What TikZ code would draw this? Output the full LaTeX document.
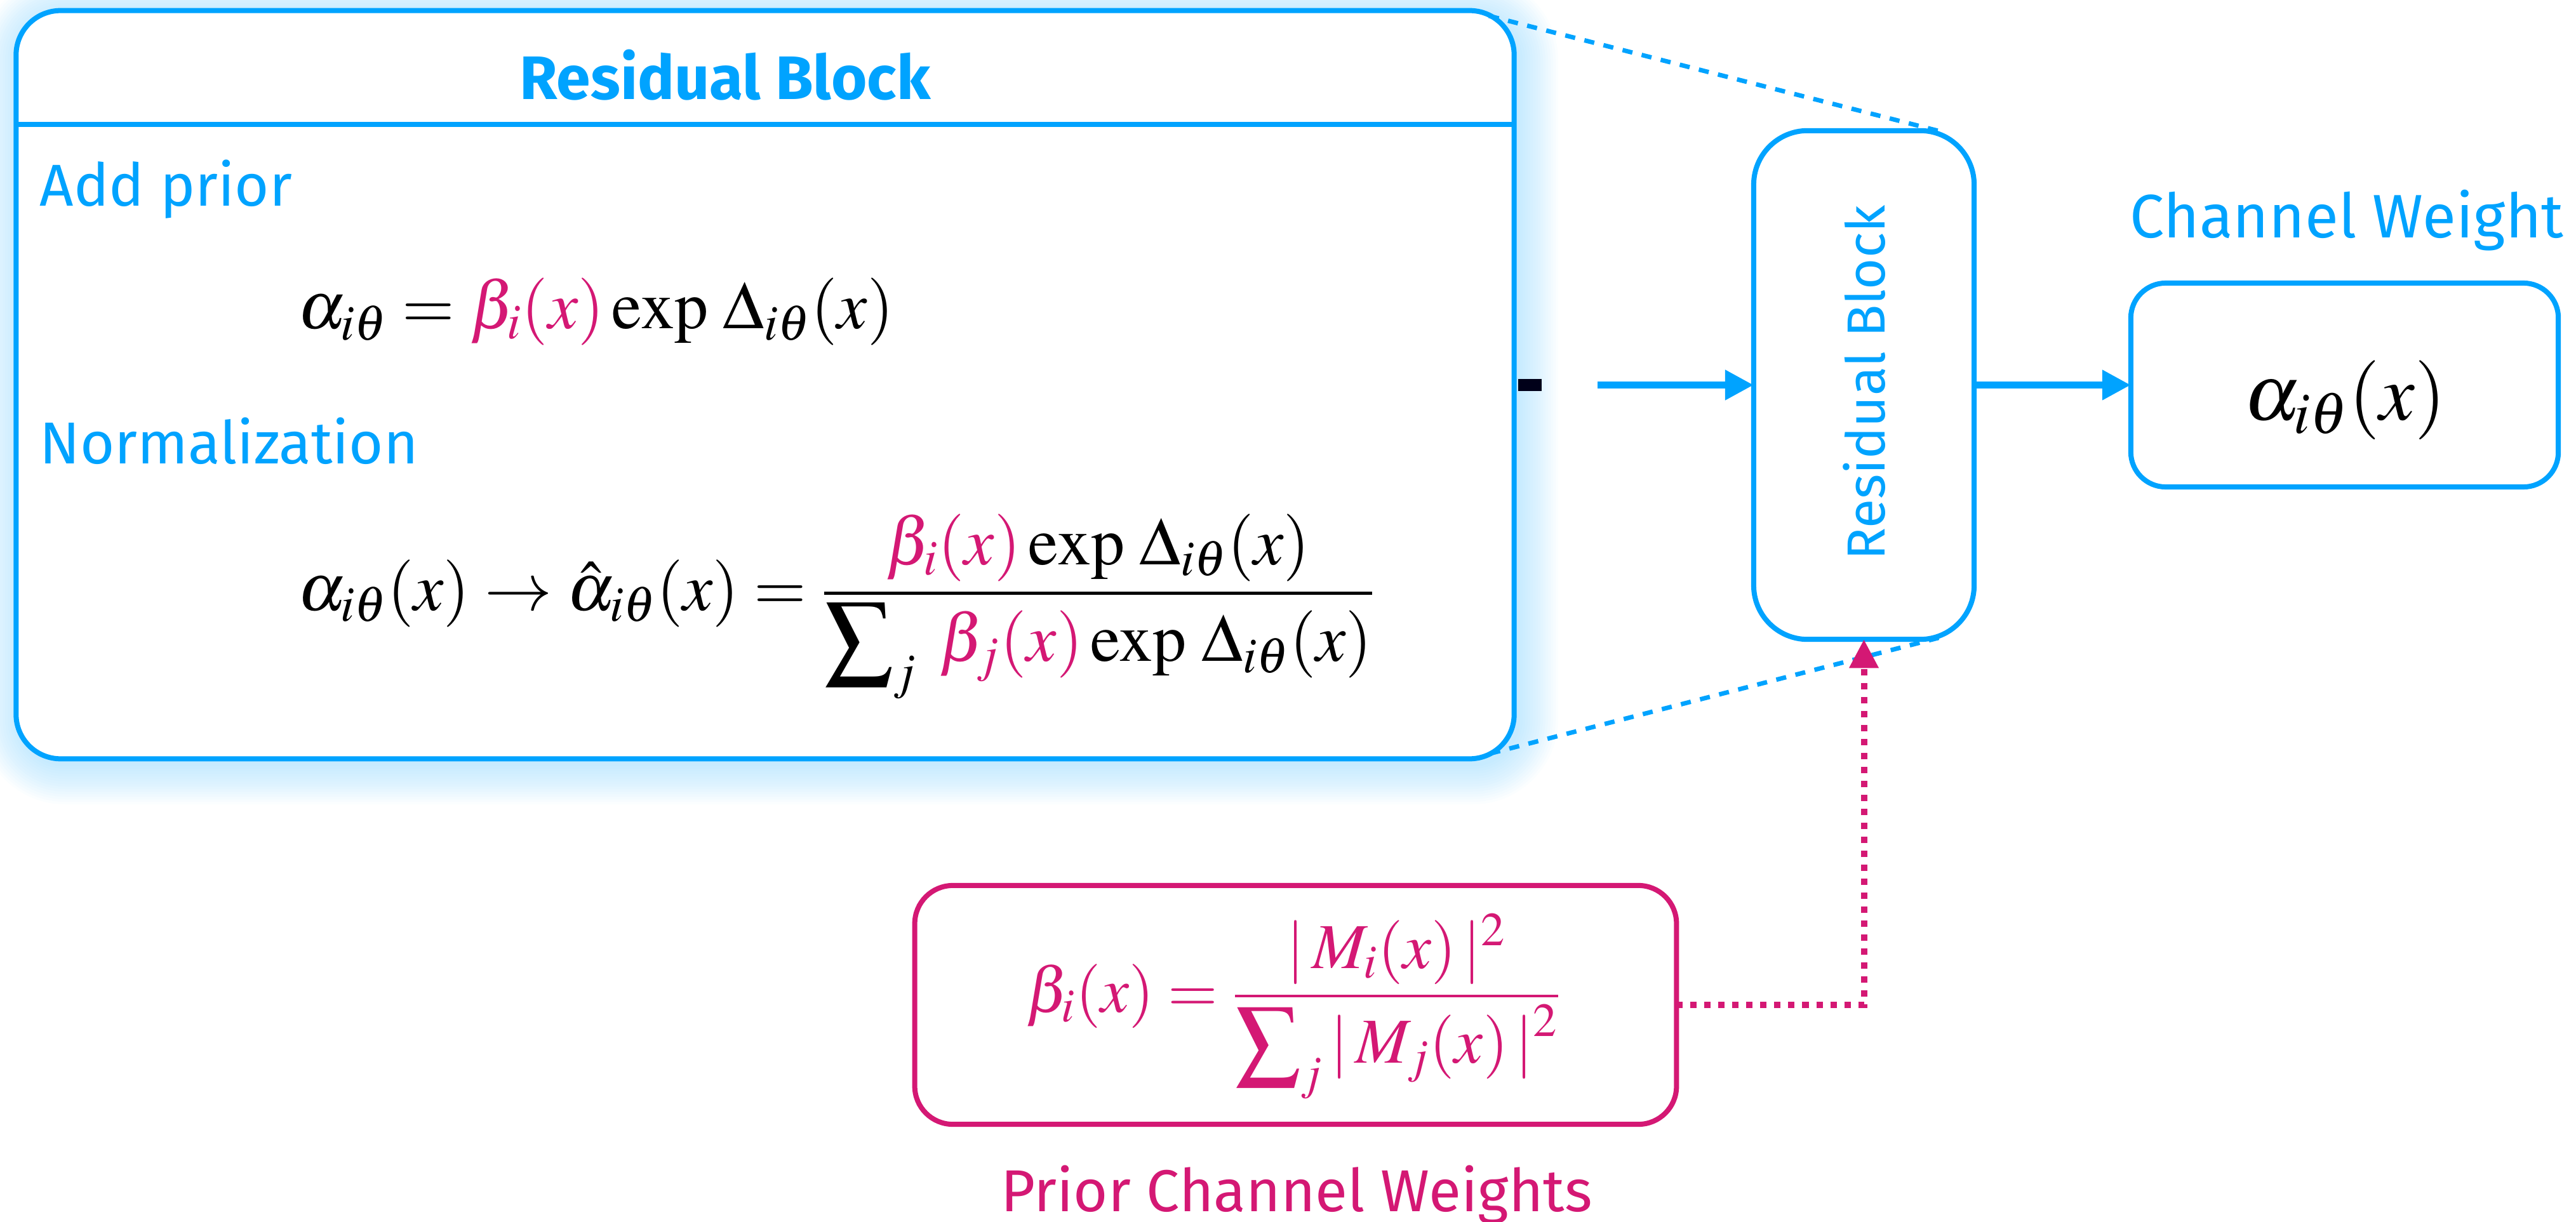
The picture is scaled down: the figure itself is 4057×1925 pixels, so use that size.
\documentclass[tikz,border=0pt]{standalone}
\usepackage[no-math]{fontspec}
\usepackage{mathptmx}
\newfontfamily\fira{Fira Sans}
\usetikzlibrary{arrows.meta}
\definecolor{cblue}{HTML}{00A3FF}
\definecolor{cmag}{HTML}{D41874}
\tikzset{
  boxb/.style={draw=cblue, line width=0.08cm, fill=white, inner sep=0pt, outer sep=0pt},
  boxm/.style={draw=cmag, line width=0.08cm, fill=white, inner sep=0pt, outer sep=0pt},
  lbl/.style={inner sep=0pt, text=cblue, font=\fira\fontsize{27.5}{33}\selectfont},
  eqn/.style={inner sep=0pt, font=\fontsize{30.2}{36}\selectfont},
  flow/.style={draw=cblue, line width=0.11cm, -{Triangle[length=0.45cm,width=0.45cm]}},
  zoomline/.style={draw=cblue, line width=0.07cm, dash pattern=on 0.16cm off 0.15cm},
  priorline/.style={draw=cmag, line width=0.1cm, dash pattern=on 0.1cm off 0.12cm, -{Triangle[length=0.45cm,width=0.44cm]}}
}
\begin{document}
\begin{tikzpicture}[x=0.01cm,y=-0.01cm]
\useasboundingbox (0,0) rectangle (4057,1925);
% glow
\foreach \k in {1,...,16}{
  \pgfmathsetmacro\rr{0.7+0.04*\k}
  \fill[cblue, opacity=0.016, rounded corners=\rr cm]
    ({26-4*\k+6},{17-4*\k+8}) rectangle ({2384+4*\k+6},{1195+4*\k+8});
}
% main zoomed box
\node[boxb, rounded corners=0.7cm, minimum width=23.58cm, minimum height=11.78cm] (big) at (1205,606) {};
\draw[cblue, line width=0.08cm] (big.west |- 0,196) -- (big.east |- 0,196);
\node[lbl, anchor=base, font=\fira\bfseries\fontsize{27.5}{33}\selectfont] (title) at (1142,157) {Residual Block};
\node[lbl, anchor=base west, font=\fira\fontsize{26.5}{32}\selectfont] (addp) at (62,325) {Add prior};
\node[lbl, anchor=base west, font=\fira\fontsize{26.5}{32}\selectfont] (norm) at (62,731) {Normalization};
\node[eqn, anchor=base west] (eq1) at (469,518)
  {$\alpha_{i\theta} = {\color{cmag}\beta_i(x)} \exp\,\Delta_{i\theta}(x)$};
\node[eqn, anchor=base west] (eq2) at (469,961)
  {$\alpha_{i\theta}(x) \rightarrow \hat{\alpha}_{i\theta}(x) = {\displaystyle\frac{{\color{cmag}\beta_i(x)} \exp\,\Delta_{i\theta}(x)}{\displaystyle\sum\nolimits_j\; {\color{cmag}\beta_j(x)} \exp\,\Delta_{i\theta}(x)}}$};
% small black mark
\node[fill=black!90!blue, inner sep=0pt, minimum width=0.37cm, minimum height=0.19cm] (mark) at (2409.5,606.5) {};
% residual block
\node[boxb, rounded corners=0.85cm, minimum width=3.47cm, minimum height=8.01cm] (rb) at (2935.5,606.5) {};
\node[lbl, rotate=90, font=\fira\fontsize{24}{29}\selectfont] (rbt) at (2936,603) {Residual Block};
% channel weight
\node[boxb, rounded corners=0.55cm, minimum width=6.73cm, minimum height=3.21cm] (ch) at (3692.5,606.5) {};
\node[lbl, anchor=base] (cht) at (3696,375) {Channel Weight};
\node[eqn, anchor=base, font=\fontsize{35.5}{42}\selectfont] (chm) at (3693,662) {$\alpha_{i\theta}(x)$};
% prior
\node[boxm, rounded corners=0.6cm, minimum width=11.99cm, minimum height=3.76cm] (pr) at (2040.5,1583) {};
\node[eqn, anchor=base, text=cmag, font=\fontsize{28.7}{34}\selectfont] (prm) at (2037,1594)
  {$\beta_i(x) = {\displaystyle\frac{|\,M_i(x)\,|^2}{\displaystyle\sum\nolimits_j |\,M_j(x)\,|^2}}$};
\node[lbl, anchor=base, text=cmag, font=\fira\fontsize{26.5}{32}\selectfont] (prt) at (2042,1908) {Prior Channel Weights};
% connectors
\coordinate (fs) at (2516,606.5);
\draw[flow] (fs) -- (rb.west);
\draw[flow] (rb.east) -- (ch.west);
\coordinate (zt1) at (2345,25);
\coordinate (zt2) at (3060,208);
\coordinate (zb1) at (2347,1187);
\coordinate (zb2) at (3060,1003);
\draw[zoomline] (zt1) -- (zt2);
\draw[zoomline] (zb1) -- (zb2);
\draw[priorline] (pr.east) -| (rb.south);
\end{tikzpicture}
\end{document}
